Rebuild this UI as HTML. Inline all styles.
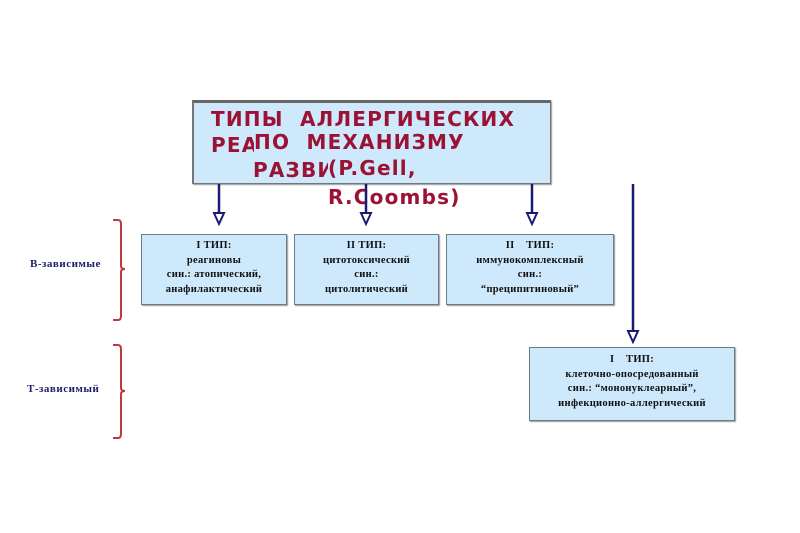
<!DOCTYPE html>
<html><head><meta charset="utf-8"><style>
body{margin:0;width:800px;height:533px;background:#fff;position:relative;overflow:hidden}
.b{position:absolute;background:#cde9fb;border:1px solid #6b7b88;box-shadow:1px 1px 1px #999;font-family:"Liberation Serif","Noto Serif CJK SC",serif;font-weight:bold;font-size:10.5px;line-height:14.5px;letter-spacing:0.3px;text-align:center;color:#111;box-sizing:border-box}
.t{position:absolute;font-family:"DejaVu Sans","Liberation Sans",sans-serif;font-weight:bold;font-size:20px;letter-spacing:1.2px;color:#9b1235;white-space:pre;line-height:22px}
.l{position:absolute;font-family:"Liberation Serif",serif;font-weight:bold;font-size:11px;letter-spacing:0.5px;color:#1c1c6a}
</style></head><body>
<div class="b" style="left:192px;top:100px;width:359px;height:84px;border:1px solid #777;border-top:3px solid #666;border-left:2px solid #777"></div>
<div class="t" style="left:211px;top:108px">ТИПЫ  АЛЛЕРГИЧЕСКИХ</div>
<div class="t" style="left:211px;top:134px">РЕА</div>
<div class="t" style="left:254px;top:131px;background:#cde9fb">ПО  МЕХАНИЗМУ</div>
<div class="t" style="left:253px;top:159px">РАЗВИ</div>
<div class="t" style="left:328px;top:157px;background:#cde9fb">(P.Gell,</div>
<div class="t" style="left:328px;top:186px">R.Coombs)</div>
<svg style="position:absolute;left:0;top:0" width="800" height="533">
<g stroke="#1a1a70" stroke-width="2.5" fill="#fff">
<line x1="219" y1="184" x2="219" y2="214"/><line x1="366" y1="184" x2="366" y2="214"/><line x1="532" y1="184" x2="532" y2="214"/><line x1="633" y1="184" x2="633" y2="332"/>
</g>
<g fill="#fff" stroke="#1a1a70" stroke-width="2">
<polygon points="214,213 224,213 219,224"/><polygon points="361,213 371,213 366,224"/><polygon points="527,213 537,213 532,224"/><polygon points="628,331 638,331 633,342"/>
</g>
<g fill="none" stroke="#c0393c" stroke-width="2">
<path d="M113,220 H118 Q121,220 121,224 V266 Q121,269 125,269 Q121,269 121,272 V316 Q121,320 118,320 H113"/>
<path d="M113,345 H118 Q121,345 121,349 V388 Q121,391 125,391 Q121,391 121,394 V434 Q121,438 118,438 H113"/>
</g>
</svg>
<div class="b" style="left:141px;top:234px;width:146px;height:71px;padding-top:4px">I ТИП:<br>реагиновы<br>син.: атопический,<br>анафилактический</div>
<div class="b" style="left:294px;top:234px;width:145px;height:71px;padding-top:4px">II ТИП:<br>цитотоксический<br>син.:<br>цитолитический</div>
<div class="b" style="left:446px;top:234px;width:168px;height:71px;padding-top:4px">II &nbsp;&nbsp; ТИП:<br>иммунокомплексный<br>син.:<br>“преципитиновый”</div>
<div class="b" style="left:529px;top:347px;width:206px;height:74px;padding-top:5px">I &nbsp;&nbsp; ТИП:<br>клеточно-опосредованный<br>син.: “мононуклеарный”,<br>инфекционно-аллергический</div>
<div class="l" style="left:30px;top:258px">В-зависимые</div>
<div class="l" style="left:27px;top:383px">Т-зависимый</div>
</body></html>
